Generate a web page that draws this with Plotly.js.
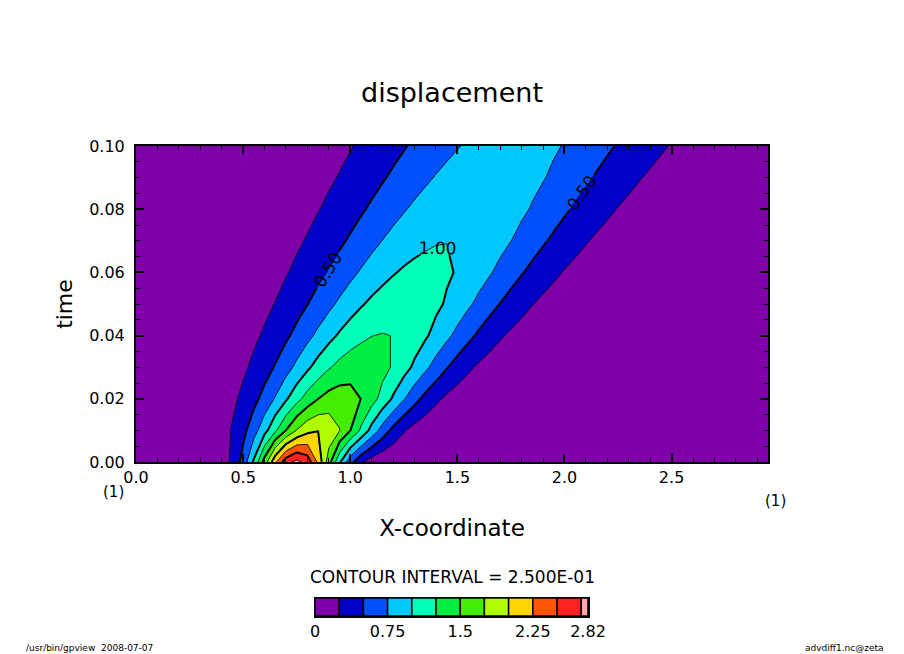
<!DOCTYPE html>
<html>
<head>
<meta charset="utf-8">
<script src="https://cdn.plot.ly/plotly-3.0.1.min.js"></script>
<style>
  html, body { margin: 0; padding: 0; background: #ffffff; }
  #chart { width: 904px; height: 654px; }
</style>
</head>
<body>
<div id="chart"></div>
<script>
// X-coordinate grid
const xCoord = [0.00,0.05,0.10,0.15,0.20,0.25,0.30,0.35,0.40,0.45,
                0.50,0.55,0.60,0.65,0.70,0.75,0.80,0.85,0.90,0.95,
                1.00,1.05,1.10,1.15,1.20,1.25,1.30,1.35,1.40,1.45,
                1.50,1.55,1.60,1.65,1.70,1.75,1.80,1.85,1.90,1.95,
                2.00,2.05,2.10,2.15,2.20,2.25,2.30,2.35,2.40,2.45,
                2.50,2.55,2.60,2.65,2.70,2.75,2.80,2.85,2.90,2.95];
// time grid
const timeVals = [0.00,0.01,0.02,0.03,0.04,0.05,0.06,0.07,0.08,0.09,0.10];

// displacement, one row per time
const dispT000 = [0,0,0,0,0, 0.005,0.018,0.052,0.132,0.297, 0.591,1.038,1.607,2.197,2.650, 2.821,2.650,2.197,1.607,1.038,
  0.591,0.297,0.132,0.052,0.018, 0.005,0,0,0,0, 0,0,0,0,0, 0,0,0,0,0, 0,0,0,0,0, 0,0,0,0,0, 0,0,0,0,0, 0,0,0,0,0];
const dispT001 = [0,0,0,0.004,0.010, 0.022,0.045,0.088,0.159,0.270, 0.431,0.648,0.913,1.210,1.506, 1.760,1.933,1.995,1.933,1.760,
  1.506,1.210,0.913,0.648,0.431, 0.270,0.159,0.088,0.045,0.022, 0.010,0.004,0,0,0, 0,0,0,0,0, 0,0,0,0,0, 0,0,0,0,0, 0,0,0,0,0, 0,0,0,0,0];
const dispT002 = [0.001,0.002,0.004,0.008,0.015, 0.027,0.048,0.081,0.131,0.203, 0.301,0.429,0.587,0.769,0.967, 1.167,1.350,1.498,1.595,1.629,
  1.595,1.498,1.350,1.167,0.967, 0.769,0.587,0.429,0.301,0.203, 0.131,0.081,0.048,0.027,0.015, 0.008,0.004,0.002,0.001,0,
  0,0,0,0,0, 0,0,0,0,0, 0,0,0,0,0, 0,0,0,0,0];
const dispT003 = [0.001,0.003,0.005,0.009,0.015, 0.026,0.042,0.066,0.101,0.149, 0.213,0.296,0.398,0.519,0.656, 0.804,0.954,1.099,1.225,1.325,
  1.389,1.411,1.389,1.325,1.225, 1.099,0.954,0.804,0.656,0.519, 0.398,0.296,0.213,0.149,0.101, 0.066,0.042,0.026,0.015,0.009,
  0.005,0.003,0.001,0,0, 0,0,0,0,0, 0,0,0,0,0, 0,0,0,0,0];
const dispT004 = [0.002,0.003,0.005,0.008,0.014, 0.022,0.034,0.051,0.076,0.109, 0.153,0.209,0.278,0.361,0.458, 0.567,0.684,0.804,0.923,1.033,
  1.127,1.200,1.246,1.262,1.246, 1.200,1.127,1.033,0.923,0.804, 0.684,0.567,0.458,0.361,0.278, 0.209,0.153,0.109,0.076,0.051,
  0.034,0.022,0.014,0.008,0.005, 0.003,0.002,0,0,0, 0,0,0,0,0, 0,0,0,0,0];
const dispT005 = [0.002,0.003,0.005,0.007,0.012, 0.018,0.027,0.039,0.057,0.080, 0.111,0.149,0.198,0.257,0.327, 0.406,0.495,0.591,0.691,0.791,
  0.888,0.975,1.049,1.105,1.140, 1.152,1.140,1.105,1.049,0.975, 0.888,0.791,0.691,0.591,0.495, 0.406,0.327,0.257,0.198,0.149,
  0.111,0.080,0.057,0.039,0.027, 0.018,0.012,0.007,0.005,0.003, 0.002,0,0,0,0, 0,0,0,0,0];
const dispT006 = [0.002,0.003,0.004,0.006,0.009, 0.014,0.021,0.030,0.042,0.059, 0.081,0.108,0.143,0.185,0.236, 0.295,0.362,0.437,0.517,0.602,
  0.688,0.773,0.853,0.924,0.984, 1.029,1.057,1.066,1.057,1.029, 0.984,0.924,0.853,0.773,0.688, 0.602,0.517,0.437,0.362,0.295,
  0.236,0.185,0.143,0.108,0.081, 0.059,0.042,0.030,0.021,0.014, 0.009,0.006,0.004,0.003,0.002, 0,0,0,0,0];
const dispT007 = [0.001,0.002,0.003,0.005,0.008, 0.011,0.016,0.023,0.032,0.044, 0.059,0.079,0.104,0.135,0.172, 0.216,0.266,0.324,0.388,0.457,
  0.530,0.605,0.680,0.753,0.820, 0.880,0.930,0.967,0.990,0.997, 0.990,0.967,0.930,0.880,0.820, 0.753,0.680,0.605,0.530,0.457,
  0.388,0.324,0.266,0.216,0.172, 0.135,0.104,0.079,0.059,0.044, 0.032,0.023,0.016,0.011,0.008, 0.005,0.003,0.002,0.001,0.001];
const dispT008 = [0.001,0.002,0.003,0.004,0.006, 0.009,0.012,0.017,0.024,0.033, 0.044,0.058,0.077,0.099,0.126, 0.159,0.197,0.241,0.291,0.346,
  0.406,0.470,0.536,0.603,0.669, 0.732,0.790,0.841,0.883,0.915, 0.934,0.940,0.934,0.915,0.883, 0.841,0.790,0.732,0.669,0.603,
  0.536,0.470,0.406,0.346,0.291, 0.241,0.197,0.159,0.126,0.099, 0.077,0.058,0.044,0.033,0.024, 0.017,0.012,0.009,0.006,0.004];
const dispT009 = [0.001,0.001,0.002,0.003,0.005, 0.007,0.009,0.013,0.018,0.024, 0.033,0.043,0.057,0.073,0.093, 0.118,0.147,0.180,0.219,0.262,
  0.310,0.363,0.419,0.478,0.538, 0.598,0.657,0.712,0.763,0.807, 0.843,0.870,0.887,0.892,0.887, 0.870,0.843,0.807,0.763,0.712,
  0.657,0.598,0.538,0.478,0.419, 0.363,0.310,0.262,0.219,0.180, 0.147,0.118,0.093,0.073,0.057, 0.043,0.033,0.024,0.018,0.013];
const dispT010 = [0.001,0.001,0.002,0.003,0.004, 0.005,0.007,0.010,0.014,0.018, 0.024,0.032,0.042,0.054,0.069, 0.088,0.109,0.135,0.165,0.199,
  0.237,0.279,0.326,0.375,0.428, 0.482,0.537,0.591,0.644,0.693, 0.738,0.777,0.808,0.831,0.846, 0.851,0.846,0.831,0.808,0.777,
  0.738,0.693,0.644,0.591,0.537, 0.482,0.428,0.375,0.326,0.279, 0.237,0.199,0.165,0.135,0.109, 0.088,0.069,0.054,0.042,0.032];

// contour levels / colour bands
const bandLower = [0,0.25,0.5,0.75,1.0,1.25,1.5,1.75,2.0,2.25,2.5,2.75];
const bandUpper = [0.25,0.5,0.75,1.0,1.25,1.5,1.75,2.0,2.25,2.5,2.75,2.82];
const bandColors = ['#7f00a8','#0000c8','#0050ff','#00c8ff','#00ffb8','#00ee44',
                    '#44ee00','#b0ff00','#ffd700','#ff5500','#ff2222','#ffa8a8'];
const colorbarTickVals = [0, 0.75, 1.5, 2.25, 2.82];
const colorbarTickText = ['0', '0.75', '1.5', '2.25', '2.82'];

const zGrid = [dispT000, dispT001, dispT002, dispT003, dispT004, dispT005,
               dispT006, dispT007, dispT008, dispT009, dispT010];

// colour scale: one entry per band (first = below the first drawn level 0.25)
const colorscale = bandColors.map((c, k) => [k / (bandColors.length - 1), c]);

const FONT = 'DejaVu Sans, Liberation Sans, sans-serif';

const fillTrace = {
  type: 'contour', x: xCoord, y: timeVals, z: zGrid,
  autocontour: false,
  contours: { start: 0.25, end: 2.75, size: 0.25, coloring: 'fill', showlines: true },
  colorscale: colorscale, showscale: false,
  line: { color: 'black', width: 0.9, smoothing: 0 },
  hoverinfo: 'skip', xaxis: 'x', yaxis: 'y'
};
const labelTrace = {
  type: 'contour', x: xCoord, y: timeVals, z: zGrid,
  autocontour: false,
  contours: { start: 0.5, end: 1.0, size: 0.5, coloring: 'none', showlabels: true,
              labelformat: '.2f', labelfont: { family: FONT, size: 17, color: 'black' } },
  showscale: false,
  line: { color: 'black', width: 2, smoothing: 0 },
  hoverinfo: 'skip', xaxis: 'x', yaxis: 'y'
};
const thickTrace = {
  type: 'contour', x: xCoord, y: timeVals, z: zGrid,
  autocontour: false,
  contours: { start: 1.5, end: 2.5, size: 0.5, coloring: 'none' },
  showscale: false,
  line: { color: 'black', width: 2, smoothing: 0 },
  hoverinfo: 'skip', xaxis: 'x', yaxis: 'y'
};
const colorbarTrace = {
  type: 'bar', orientation: 'h',
  y: bandLower.map(() => 'cb'),
  x: bandUpper.map((u, i) => u - bandLower[i]),
  base: bandLower,
  marker: { color: bandColors, line: { color: 'black', width: 1.5 } },
  hoverinfo: 'skip', xaxis: 'x2', yaxis: 'y2', showlegend: false
};

const plotTop = 146, plotBottom = 624, W = 904, H = 654, ML = 136, MR = 136;
const layout = {
  width: W, height: H,
  margin: { l: ML, r: MR, t: plotTop, b: H - plotBottom, pad: 0 },
  paper_bgcolor: 'white', plot_bgcolor: 'white',
  showlegend: false,
  font: { family: FONT, color: 'black' },
  title: { text: 'displacement', font: { family: FONT, size: 27, color: 'black' },
           x: 0.5, xanchor: 'center', y: 1 - 93 / H, yanchor: 'middle', yref: 'container' },
  bargap: 0,
  xaxis: {
    domain: [0, 1], anchor: 'y', range: [0, 2.95],
    tick0: 0, dtick: 0.5, tickformat: '.1f',
    ticks: 'inside', ticklen: 8, tickwidth: 2, tickcolor: 'black',
    minor: { dtick: 0.1, ticks: 'inside', ticklen: 4, tickwidth: 1, tickcolor: 'black', showgrid: false },
    showline: true, linewidth: 2, linecolor: 'black', mirror: 'allticks',
    showgrid: false, zeroline: false,
    tickfont: { family: FONT, size: 16, color: 'black' },
    title: { text: 'X-coordinate', font: { family: FONT, size: 23, color: 'black' }, standoff: 34 }
  },
  yaxis: {
    domain: [(plotBottom - 462) / (plotBottom - plotTop), 1], anchor: 'x', range: [0, 0.1],
    tick0: 0, dtick: 0.02, tickformat: '.2f',
    ticks: 'inside', ticklen: 8, tickwidth: 2, tickcolor: 'black',
    minor: { dtick: 0.005, ticks: 'inside', ticklen: 4, tickwidth: 1, tickcolor: 'black', showgrid: false },
    showline: true, linewidth: 2, linecolor: 'black', mirror: 'allticks',
    showgrid: false, zeroline: false, ticklabelstandoff: 6,
    tickfont: { family: FONT, size: 16, color: 'black' },
    title: { text: 'time', font: { family: FONT, size: 22, color: 'black' }, standoff: 10 }
  },
  xaxis2: {
    domain: [(315 - ML) / (W - ML - MR), (588 - ML) / (W - ML - MR)], anchor: 'y2',
    range: [0, 2.82], tickvals: colorbarTickVals, ticktext: colorbarTickText,
    ticks: '', showline: true, linewidth: 1.5, linecolor: 'black', mirror: true,
    showgrid: false, zeroline: false,
    tickfont: { family: FONT, size: 16, color: 'black' }
  },
  yaxis2: {
    domain: [(plotBottom - 616) / (plotBottom - plotTop), (plotBottom - 598) / (plotBottom - plotTop)],
    anchor: 'x2', range: [-0.5, 0.5], showticklabels: false, ticks: '',
    showline: true, linewidth: 1.5, linecolor: 'black', mirror: true,
    showgrid: false, zeroline: false, type: 'category'
  },
  annotations: [
    { text: 'CONTOUR INTERVAL = 2.500E-01', xref: 'paper', yref: 'paper',
      x: 0.5, y: (plotBottom - 577) / (plotBottom - plotTop), xanchor: 'center', yanchor: 'middle',
      showarrow: false, font: { family: FONT, size: 17, color: 'black' } },
    { text: '(1)', xref: 'paper', yref: 'paper',
      x: (113 - ML) / (W - ML - MR), y: (plotBottom - 492) / (plotBottom - plotTop),
      xanchor: 'center', yanchor: 'middle', showarrow: false, font: { family: FONT, size: 15, color: 'black' } },
    { text: '(1)', xref: 'paper', yref: 'paper',
      x: (775 - ML) / (W - ML - MR), y: (plotBottom - 501) / (plotBottom - plotTop),
      xanchor: 'center', yanchor: 'middle', showarrow: false, font: { family: FONT, size: 15, color: 'black' } },
    { text: '/usr/bin/gpview\u00a0\u00a02008-07-07', xref: 'paper', yref: 'paper',
      x: (24 - ML) / (W - ML - MR), y: (plotBottom - 648) / (plotBottom - plotTop),
      xanchor: 'left', yanchor: 'middle', showarrow: false, font: { family: FONT, size: 9, color: 'black' } },
    { text: 'advdiff1.nc@zeta', xref: 'paper', yref: 'paper',
      x: (886 - ML) / (W - ML - MR), y: (plotBottom - 648) / (plotBottom - plotTop),
      xanchor: 'right', yanchor: 'middle', showarrow: false, font: { family: FONT, size: 9, color: 'black' } }
  ]
};

Plotly.newPlot('chart', [fillTrace, thickTrace, labelTrace, colorbarTrace], layout,
               { displayModeBar: false, staticPlot: true });
</script>
</body>
</html>
